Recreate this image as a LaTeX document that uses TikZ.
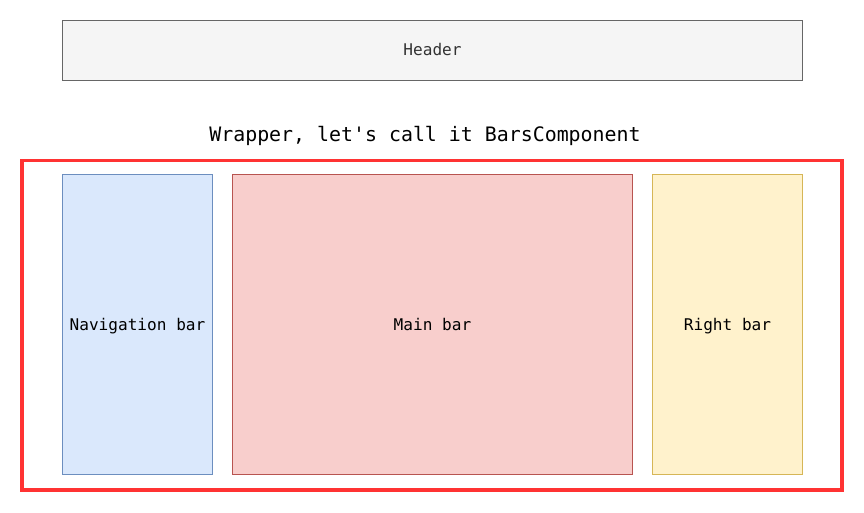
\documentclass[tikz,border=0pt]{standalone}
\usepackage{fontspec}
\setmonofont{DejaVu Sans Mono}
\definecolor{hdrfill}{HTML}{F5F5F5}
\definecolor{hdrdraw}{HTML}{666666}
\definecolor{hdrtext}{HTML}{333333}
\definecolor{bluefill}{HTML}{DAE8FC}
\definecolor{bluedraw}{HTML}{6C8EBF}
\definecolor{redfill}{HTML}{F8CECC}
\definecolor{reddraw}{HTML}{B85450}
\definecolor{yelfill}{HTML}{FFF2CC}
\definecolor{yeldraw}{HTML}{D6B656}
\definecolor{wrapred}{HTML}{FF3333}
\begin{document}
\begin{tikzpicture}[x=1pt,y=-1pt,
  boxlabel/.style={font=\ttfamily\fontsize{16.1}{19}\selectfont, anchor=base},
  panel/.style={draw, line width=0.8pt, inner sep=0pt}]
\useasboundingbox (0,0) rectangle (864,513);
\draw[panel, fill=hdrfill, draw=hdrdraw] (62.5,20.5) rectangle (802.5,80.5);
\node[boxlabel, text=hdrtext] (header) at (432.5,56) {Header};
\node[font=\ttfamily\fontsize{19.9}{23}\selectfont, anchor=base] (title) at (425,142) {Wrapper, let's call it BarsComponent};
\draw[wrapred, line width=3.5pt] (22,160.5) rectangle (842,490);
\draw[panel, fill=bluefill, draw=bluedraw] (62.5,174.5) rectangle (212.5,474.5);
\node[boxlabel] (nav) at (137.5,330) {Navigation bar};
\draw[panel, fill=redfill, draw=reddraw] (232.5,174.5) rectangle (632.5,474.5);
\node[boxlabel] (main) at (432.5,330) {Main bar};
\draw[panel, fill=yelfill, draw=yeldraw] (652.5,174.5) rectangle (802.5,474.5);
\node[boxlabel] (right) at (727.5,330) {Right bar};
\end{tikzpicture}
\end{document}
